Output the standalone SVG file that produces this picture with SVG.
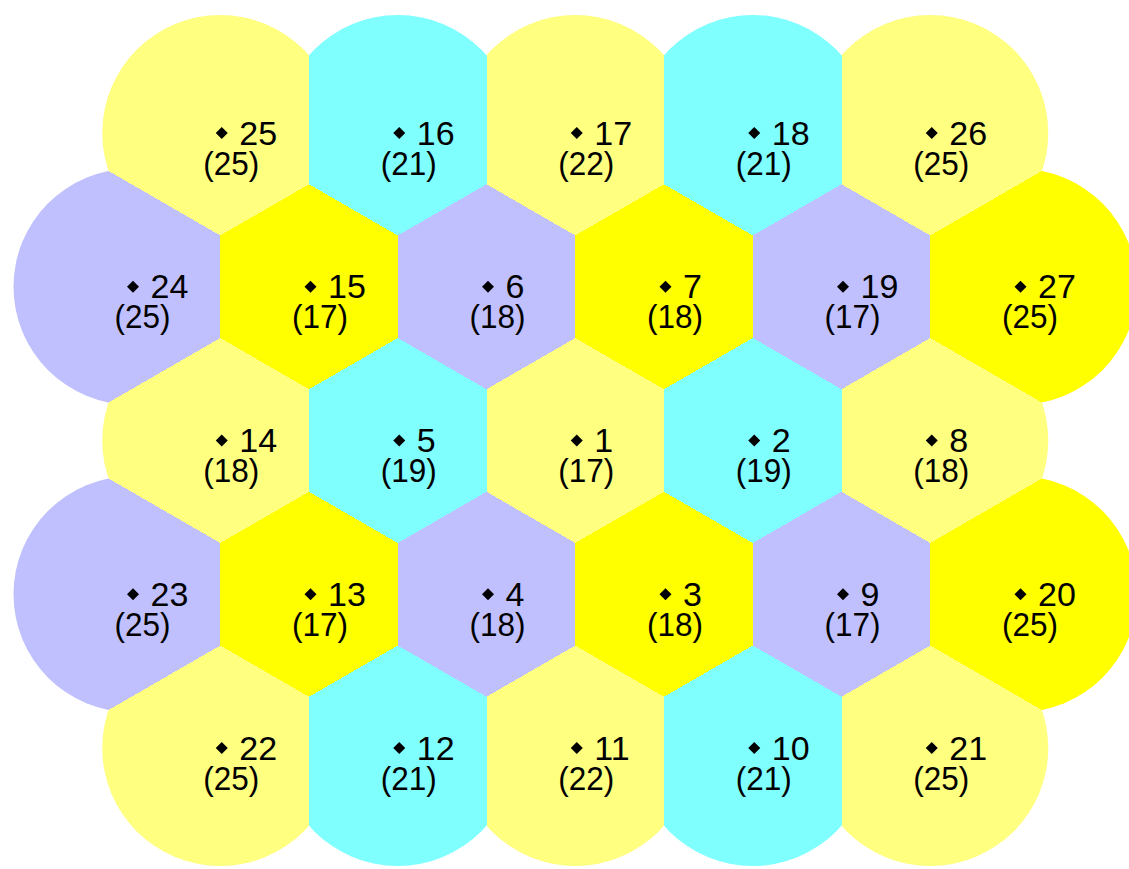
<svg xmlns="http://www.w3.org/2000/svg" xmlns:xlink="http://www.w3.org/1999/xlink" width="1129" height="869" viewBox="0 0 1129 869">
<style>
.py{fill:#FFFF80}.cy{fill:#80FFFF}.lv{fill:#C0C0FF}.yl{fill:#FFFF00}
.cell{shape-rendering:crispEdges}
text{font-family:"Liberation Sans",Arial,sans-serif;font-size:34px;fill:#000}
.p{text-anchor:middle}
</style>
<defs>
<clipPath id="disk"><circle cx="0" cy="0" r="118"/></clipPath>
<path id="dot" d="M0,-6L6,0L0,6L-6,0Z" fill="#000"/>
<path id="hex" d="M0,-102.5L88.75,-51.25L88.75,51.25L0,102.5L-88.75,51.25L-88.75,-51.25Z"/>
<path id="aMid" d="M-88.75,-300L88.75,-300L88.75,51.25L0,102.5L-88.75,51.25Z"/>
<path id="a0" d="M88.75,-300L88.75,51.25L0,102.5L-266.25,-51.25L-266.25,-300Z"/>
<path id="a4" d="M-88.75,-300L-88.75,51.25L0,102.5L266.25,-51.25L266.25,-300Z"/>
<path id="b0" d="M-266.25,-256.25L0,-102.5L88.75,-51.25L88.75,51.25L0,102.5L-266.25,256.25Z"/>
<path id="b5" d="M266.25,-256.25L0,-102.5L-88.75,-51.25L-88.75,51.25L0,102.5L266.25,256.25Z"/>
<path id="c0" d="M0,-102.5L88.75,-51.25L88.75,51.25L0,102.5L-177.5,0Z"/>
<path id="c4" d="M0,-102.5L177.5,0L0,102.5L-88.75,51.25L-88.75,-51.25Z"/>
<path id="e0" d="M88.75,300L88.75,-51.25L0,-102.5L-266.25,51.25L-266.25,300Z"/>
<path id="eMid" d="M-88.75,300L88.75,300L88.75,-51.25L0,-102.5L-88.75,-51.25Z"/>
<path id="e4" d="M-88.75,300L-88.75,-51.25L0,-102.5L266.25,51.25L266.25,300Z"/>
</defs>
<rect width="1129" height="869" fill="#fff"/>

<g id="cell-25" transform="translate(220.25,133)"><use href="#a0" class="cell py" clip-path="url(#disk)"/><use href="#dot" x="1.5"/><text x="19" y="11.7">25</text><text class="p" x="11" y="41.7" textLength="56" lengthAdjust="spacingAndGlyphs">(25)</text></g>
<g id="cell-16" transform="translate(397.75,133)"><use href="#aMid" class="cell cy" clip-path="url(#disk)"/><use href="#dot" x="1.5"/><text x="19" y="11.7">16</text><text class="p" x="11" y="41.7" textLength="56" lengthAdjust="spacingAndGlyphs">(21)</text></g>
<g id="cell-17" transform="translate(575.25,133)"><use href="#aMid" class="cell py" clip-path="url(#disk)"/><use href="#dot" x="1.5"/><text x="19" y="11.7">17</text><text class="p" x="11" y="41.7" textLength="56" lengthAdjust="spacingAndGlyphs">(22)</text></g>
<g id="cell-18" transform="translate(752.75,133)"><use href="#aMid" class="cell cy" clip-path="url(#disk)"/><use href="#dot" x="1.5"/><text x="19" y="11.7">18</text><text class="p" x="11" y="41.7" textLength="56" lengthAdjust="spacingAndGlyphs">(21)</text></g>
<g id="cell-26" transform="translate(930.25,133)"><use href="#a4" class="cell py" clip-path="url(#disk)"/><use href="#dot" x="1.5"/><text x="19" y="11.7">26</text><text class="p" x="11" y="41.7" textLength="56" lengthAdjust="spacingAndGlyphs">(25)</text></g>

<g id="cell-24" transform="translate(131.5,286.75)"><use href="#b0" class="cell lv" clip-path="url(#disk)"/><use href="#dot" x="1.5"/><text x="19" y="11.7">24</text><text class="p" x="11" y="41.7" textLength="56" lengthAdjust="spacingAndGlyphs">(25)</text></g>
<g id="cell-15" transform="translate(309,286.75)"><use href="#hex" class="cell yl"/><use href="#dot" x="1.5"/><text x="19" y="11.7">15</text><text class="p" x="11" y="41.7" textLength="56" lengthAdjust="spacingAndGlyphs">(17)</text></g>
<g id="cell-6" transform="translate(486.5,286.75)"><use href="#hex" class="cell lv"/><use href="#dot" x="1.5"/><text x="19" y="11.7">6</text><text class="p" x="11" y="41.7" textLength="56" lengthAdjust="spacingAndGlyphs">(18)</text></g>
<g id="cell-7" transform="translate(664,286.75)"><use href="#hex" class="cell yl"/><use href="#dot" x="1.5"/><text x="19" y="11.7">7</text><text class="p" x="11" y="41.7" textLength="56" lengthAdjust="spacingAndGlyphs">(18)</text></g>
<g id="cell-19" transform="translate(841.5,286.75)"><use href="#hex" class="cell lv"/><use href="#dot" x="1.5"/><text x="19" y="11.7">19</text><text class="p" x="11" y="41.7" textLength="56" lengthAdjust="spacingAndGlyphs">(17)</text></g>
<g id="cell-27" transform="translate(1019,286.75)"><use href="#b5" class="cell yl" clip-path="url(#disk)"/><use href="#dot" x="1.5"/><text x="19" y="11.7">27</text><text class="p" x="11" y="41.7" textLength="56" lengthAdjust="spacingAndGlyphs">(25)</text></g>

<g id="cell-14" transform="translate(220.25,440.5)"><use href="#c0" class="cell py" clip-path="url(#disk)"/><use href="#dot" x="1.5"/><text x="19" y="11.7">14</text><text class="p" x="11" y="41.7" textLength="56" lengthAdjust="spacingAndGlyphs">(18)</text></g>
<g id="cell-5" transform="translate(397.75,440.5)"><use href="#hex" class="cell cy"/><use href="#dot" x="1.5"/><text x="19" y="11.7">5</text><text class="p" x="11" y="41.7" textLength="56" lengthAdjust="spacingAndGlyphs">(19)</text></g>
<g id="cell-1" transform="translate(575.25,440.5)"><use href="#hex" class="cell py"/><use href="#dot" x="1.5"/><text x="19" y="11.7">1</text><text class="p" x="11" y="41.7" textLength="56" lengthAdjust="spacingAndGlyphs">(17)</text></g>
<g id="cell-2" transform="translate(752.75,440.5)"><use href="#hex" class="cell cy"/><use href="#dot" x="1.5"/><text x="19" y="11.7">2</text><text class="p" x="11" y="41.7" textLength="56" lengthAdjust="spacingAndGlyphs">(19)</text></g>
<g id="cell-8" transform="translate(930.25,440.5)"><use href="#c4" class="cell py" clip-path="url(#disk)"/><use href="#dot" x="1.5"/><text x="19" y="11.7">8</text><text class="p" x="11" y="41.7" textLength="56" lengthAdjust="spacingAndGlyphs">(18)</text></g>

<g id="cell-23" transform="translate(131.5,594.25)"><use href="#b0" class="cell lv" clip-path="url(#disk)"/><use href="#dot" x="1.5"/><text x="19" y="11.7">23</text><text class="p" x="11" y="41.7" textLength="56" lengthAdjust="spacingAndGlyphs">(25)</text></g>
<g id="cell-13" transform="translate(309,594.25)"><use href="#hex" class="cell yl"/><use href="#dot" x="1.5"/><text x="19" y="11.7">13</text><text class="p" x="11" y="41.7" textLength="56" lengthAdjust="spacingAndGlyphs">(17)</text></g>
<g id="cell-4" transform="translate(486.5,594.25)"><use href="#hex" class="cell lv"/><use href="#dot" x="1.5"/><text x="19" y="11.7">4</text><text class="p" x="11" y="41.7" textLength="56" lengthAdjust="spacingAndGlyphs">(18)</text></g>
<g id="cell-3" transform="translate(664,594.25)"><use href="#hex" class="cell yl"/><use href="#dot" x="1.5"/><text x="19" y="11.7">3</text><text class="p" x="11" y="41.7" textLength="56" lengthAdjust="spacingAndGlyphs">(18)</text></g>
<g id="cell-9" transform="translate(841.5,594.25)"><use href="#hex" class="cell lv"/><use href="#dot" x="1.5"/><text x="19" y="11.7">9</text><text class="p" x="11" y="41.7" textLength="56" lengthAdjust="spacingAndGlyphs">(17)</text></g>
<g id="cell-20" transform="translate(1019,594.25)"><use href="#b5" class="cell yl" clip-path="url(#disk)"/><use href="#dot" x="1.5"/><text x="19" y="11.7">20</text><text class="p" x="11" y="41.7" textLength="56" lengthAdjust="spacingAndGlyphs">(25)</text></g>

<g id="cell-22" transform="translate(220.25,748)"><use href="#e0" class="cell py" clip-path="url(#disk)"/><use href="#dot" x="1.5"/><text x="19" y="11.7">22</text><text class="p" x="11" y="41.7" textLength="56" lengthAdjust="spacingAndGlyphs">(25)</text></g>
<g id="cell-12" transform="translate(397.75,748)"><use href="#eMid" class="cell cy" clip-path="url(#disk)"/><use href="#dot" x="1.5"/><text x="19" y="11.7">12</text><text class="p" x="11" y="41.7" textLength="56" lengthAdjust="spacingAndGlyphs">(21)</text></g>
<g id="cell-11" transform="translate(575.25,748)"><use href="#eMid" class="cell py" clip-path="url(#disk)"/><use href="#dot" x="1.5"/><text x="19" y="11.7">11</text><text class="p" x="11" y="41.7" textLength="56" lengthAdjust="spacingAndGlyphs">(22)</text></g>
<g id="cell-10" transform="translate(752.75,748)"><use href="#eMid" class="cell cy" clip-path="url(#disk)"/><use href="#dot" x="1.5"/><text x="19" y="11.7">10</text><text class="p" x="11" y="41.7" textLength="56" lengthAdjust="spacingAndGlyphs">(21)</text></g>
<g id="cell-21" transform="translate(930.25,748)"><use href="#e4" class="cell py" clip-path="url(#disk)"/><use href="#dot" x="1.5"/><text x="19" y="11.7">21</text><text class="p" x="11" y="41.7" textLength="56" lengthAdjust="spacingAndGlyphs">(25)</text></g>
</svg>
